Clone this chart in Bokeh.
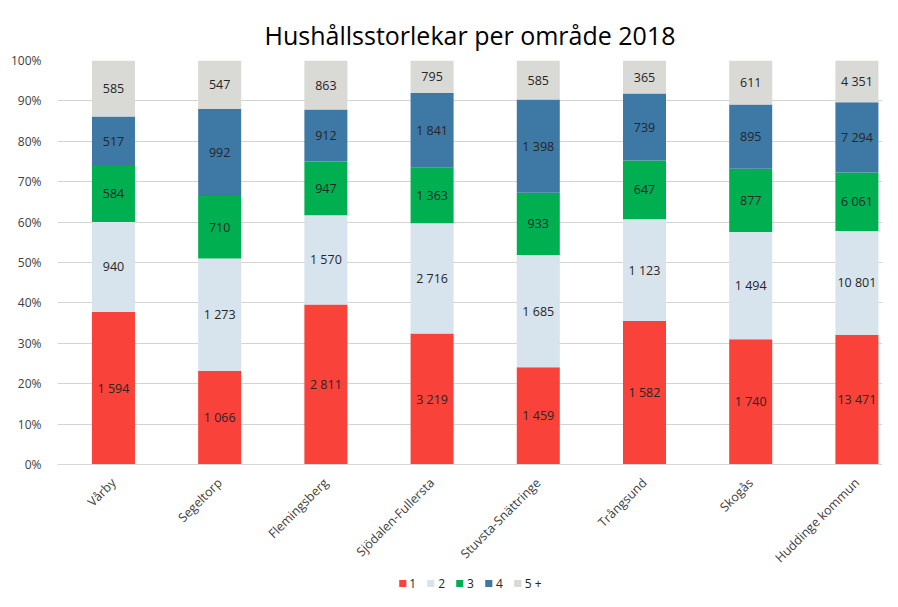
from bokeh.plotting import figure
from bokeh.layouts import column
from bokeh.models import ColumnDataSource, Range1d, FixedTicker, NumeralTickFormatter, Legend, LegendItem
from bokeh.embed import file_html
from bokeh.resources import INLINE

areas = ["Vårby", "Segeltorp", "Flemingsberg", "Sjödalen-Fullersta", "Stuvsta-Snättringe",
         "Trångsund", "Skogås", "Huddinge kommun"]
series = ["1", "2", "3", "4", "5 +"]
s1 = [1594, 1066, 2811, 3219, 1459, 1582, 1740, 13471]
s2 = [940, 1273, 1570, 2716, 1685, 1123, 1494, 10801]
s3 = [584, 710, 947, 1363, 933, 647, 877, 6061]
s4 = [517, 992, 912, 1841, 1398, 739, 895, 7294]
s5 = [585, 547, 863, 795, 585, 365, 611, 4351]
colors = ["#F9423A", "#D7E4EE", "#00AF50", "#3E78A5", "#D9D9D5"]
y_ticks = [0, 0.1, 0.2, 0.3, 0.4, 0.5, 0.6, 0.7, 0.8, 0.9, 1.0]

all_series = [s1, s2, s3, s4, s5]
totals = [sum(v) for v in zip(*all_series)]
xs = list(range(len(areas)))

def fmt(n):
    return f"{n:,}".replace(",", " ")

W = 882
p = figure(width=W, height=575, output_backend="svg", toolbar_location=None,
           x_range=Range1d(-0.527, 7.241), y_range=Range1d(0, 1),
           min_border_left=57, min_border_right=0, min_border_top=60, min_border_bottom=108)

p.title.text = "Hushållsstorlekar per område 2018"
p.title.align = "center"
p.title.text_font = "Open Sans"
p.title.text_font_size = "25px"
p.title.text_font_style = "normal"
p.title.text_color = "#000000"
p.title.standoff = 18

bottoms = [0.0] * len(areas)
for name, vals, col in zip(series, all_series, colors):
    fr = [v / t for v, t in zip(vals, totals)]
    tops = [b + f for b, f in zip(bottoms, fr)]
    mids = [(b + t) / 2 for b, t in zip(bottoms, tops)]
    src = ColumnDataSource(dict(x=xs, bottom=bottoms, top=tops, mid=mids,
                                label=[fmt(v) for v in vals]))
    p.vbar(x="x", bottom="bottom", top="top", width=0.405, source=src,
           fill_color=col, line_color=None)
    p.text(x="x", y="mid", text="label", source=src, text_align="center",
           text_baseline="middle", text_font_size="12.5px", text_color="#262626",
           text_font={"value": "Open Sans"})
    bottoms = tops

p.yaxis.ticker = FixedTicker(ticks=y_ticks)
p.yaxis.formatter = NumeralTickFormatter(format="0%")
p.yaxis.axis_line_color = None
p.yaxis.major_tick_line_color = None
p.yaxis.minor_tick_line_color = None
p.yaxis.major_label_text_font = "Open Sans"
p.yaxis.major_label_text_font_size = "12px"
p.yaxis.major_label_text_color = "#404040"
p.yaxis.major_label_standoff = 10

p.xaxis.ticker = FixedTicker(ticks=xs)
p.xaxis.major_label_overrides = {i: a for i, a in enumerate(areas)}
p.xaxis.major_label_orientation = 0.7854
p.xaxis.axis_line_color = "#D9D9D9"
p.xaxis.major_tick_line_color = None
p.xaxis.minor_tick_line_color = None
p.xaxis.major_label_text_font = "Open Sans"
p.xaxis.major_label_text_font_style = "normal"
p.xaxis.major_label_text_font_size = "12.5px"
p.xaxis.major_label_text_color = "#404040"
p.xaxis.major_label_standoff = 10

p.xgrid.grid_line_color = None
p.ygrid.grid_line_color = "#D4D4D4"
p.ygrid.grid_line_width = 1
p.outline_line_color = None
p.background_fill_color = "white"
p.border_fill_color = "white"

# legend strip (renderers hidden; only their legend swatches are shown)
lg = figure(width=W, height=16, output_backend="svg", toolbar_location=None,
            x_range=Range1d(-0.527, 7.241), y_range=Range1d(0, 1),
            min_border_left=57, min_border_right=0, min_border_top=0, min_border_bottom=0)
lg.axis.visible = False
lg.grid.visible = False
lg.outline_line_color = None
items = []
for name, vals, col in zip(series, all_series, colors):
    r = lg.vbar(x=xs, top=vals, width=0.4, fill_color=col, line_color=None, visible=False)
    items.append(LegendItem(label=name, renderers=[r]))
legend = Legend(items=items, orientation="horizontal", location="center",
                border_line_color=None, background_fill_alpha=0,
                inactive_fill_alpha=0,
                glyph_width=9, glyph_height=9, label_text_font="Open Sans",
                label_text_font_size="12px", label_text_color="#262626",
                spacing=10, label_standoff=3, padding=0, margin=0,
                label_width=6, label_height=12, label_text_baseline="middle")
lg.add_layout(legend)

layout = column(p, lg, spacing=0)
open("out.html", "w").write(file_html(layout, INLINE))
